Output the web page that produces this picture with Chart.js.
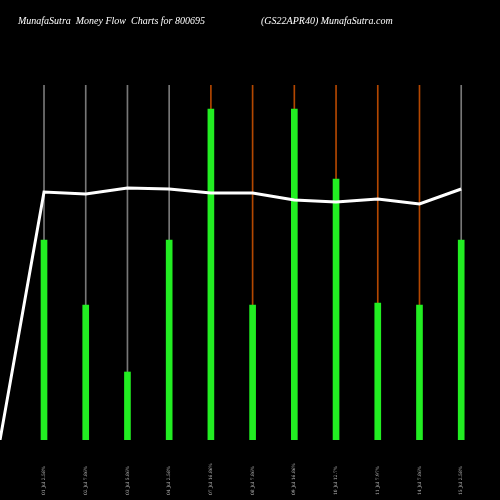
<!DOCTYPE html>
<html>
<head>
<script src="https://cdn.jsdelivr.net/npm/chart.js@4"></script>
<style>
  html, body { margin: 0; background: #000; }
  #wrap { width: 500px; height: 500px; position: relative; }
</style>
</head>
<body>
<div id="wrap"><canvas id="c" width="500" height="500"></canvas></div>
<script>
// values (pixels above baseline, scale 0..355)
const dateLabels = ['01 Jul 2.58%', '02 Jul 7.86%', '03 Jul 5.86%', '04 Jul 2.58%', '07 Jul 16.86%', '08 Jul 7.86%',
  '09 Jul 16.86%', '10 Jul 12.7%', '11 Jul 7.97%', '14 Jul 7.86%', '15 Jul 2.58%'];
const volumes = [200, 135, 68, 200, 331, 135, 331, 261, 137, 135, 200];
const flowLine = [248, 246, 252, 251, 247, 247, 240, 238, 241, 236, 251];
const startValue = 0;
const lineColors = ['#777', '#777', '#777', '#777', '#b34700', '#b34700', '#b34700', '#b34700', '#b34700', '#b34700', '#777'];

const idx = dateLabels.map((_, i) => i);
const linePoints = [{ x: -1.055, y: startValue }].concat(idx.map(i => ({ x: i, y: flowLine[i] })));

const labelPlugin = {
  id: 'labels',
  afterDraw(chart) {
    const ctx = chart.ctx;
    const xs = chart.scales.x;
    ctx.save();
    ctx.fillStyle = '#bbb';
    ctx.font = '4.5px "DejaVu Serif"';
    ctx.textAlign = 'left';
    ctx.textBaseline = 'middle';
    dateLabels.forEach((t, i) => {
      ctx.save();
      ctx.translate(xs.getPixelForValue(i), 452);
      ctx.rotate(-Math.PI / 2);
      ctx.fillText(t, -43, 0);
      ctx.restore();
    });
    ctx.fillStyle = '#fff';
    ctx.font = 'italic 10px "Liberation Serif"';
    ctx.fillText('MunafaSutra  Money Flow  Charts for 800695', 18, 21);
    ctx.fillText('(GS22APR40) MunafaSutra.com', 261, 21);
    ctx.restore();
  }
};

new Chart(document.getElementById('c'), {
  type: 'bar',
  data: {
    datasets: [
      {
        type: 'line',
        data: linePoints,
        borderColor: '#fff',
        borderWidth: 3,
        pointRadius: 0,
        tension: 0,
        order: 0
      },
      {
        data: idx.map(i => ({ x: i, y: volumes[i] })),
        backgroundColor: '#22ee22',
        barThickness: 6,
        grouped: false,
        order: 1
      },
      {
        data: idx.map(i => ({ x: i, y: 355 })),
        backgroundColor: lineColors,
        barThickness: 1,
        grouped: false,
        order: 2
      }
    ]
  },
  plugins: [labelPlugin],
  options: {
    animation: false,
    responsive: false,
    layout: { padding: { top: 85, bottom: 60, left: 0, right: 0 } },
    plugins: { legend: { display: false }, tooltip: { enabled: false } },
    scales: {
      x: { type: 'linear', min: -1.055, max: 10.93, offset: false, display: false },
      y: { min: 0, max: 355, display: false }
    }
  }
});
</script>
</body>
</html>
